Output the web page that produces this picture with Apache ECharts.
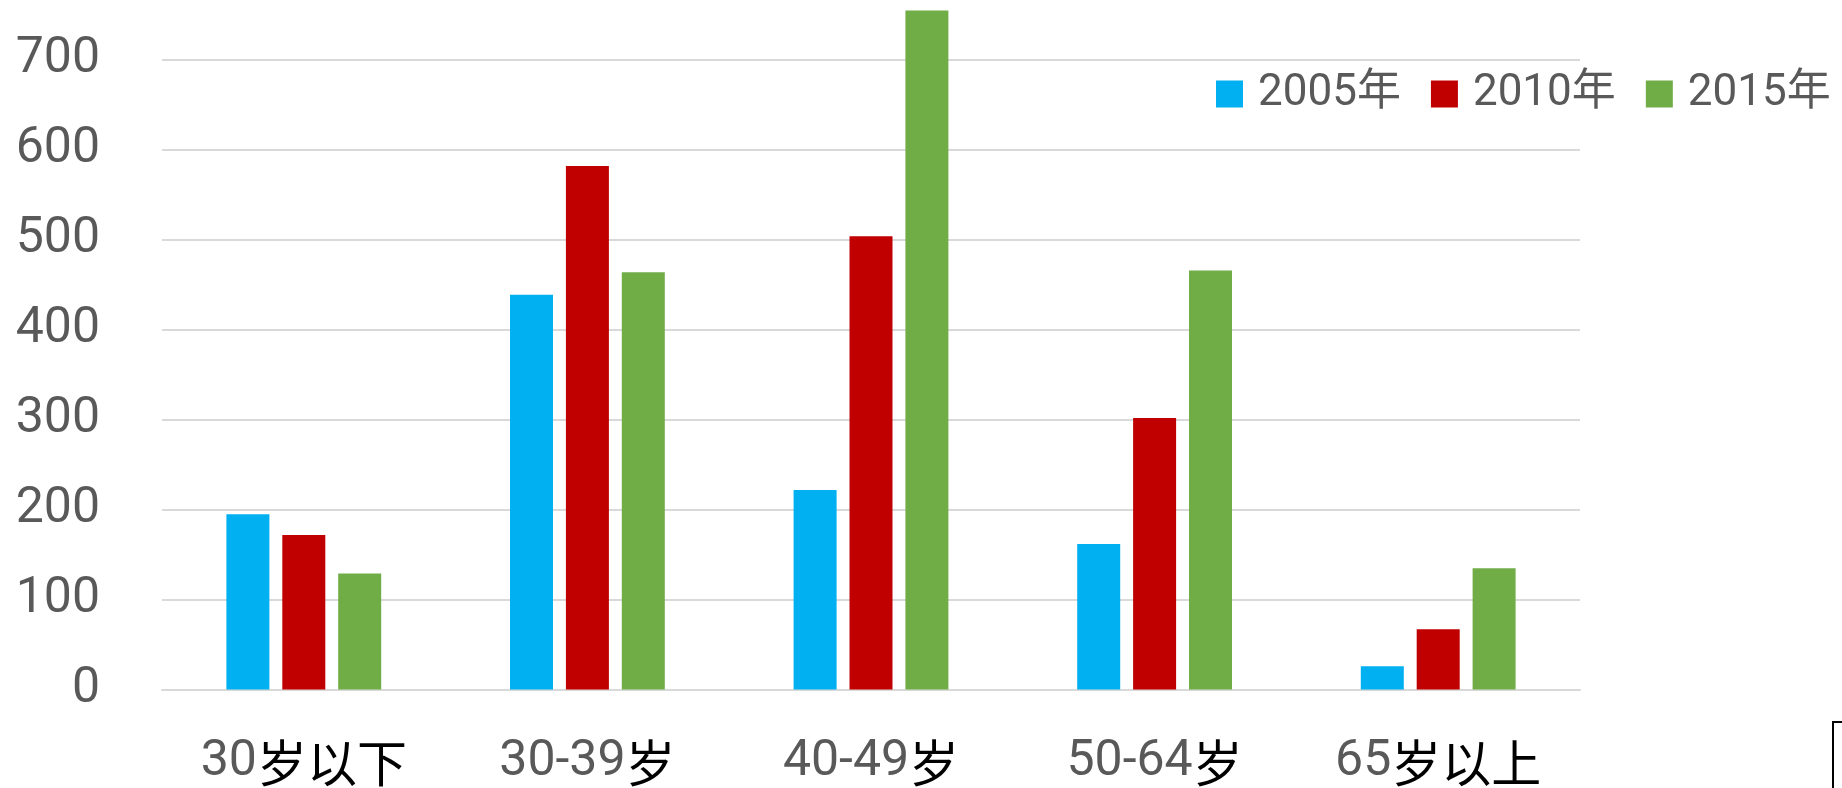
<!DOCTYPE html>
<html>
<head>
<meta charset="utf-8">
<script src="https://cdn.jsdelivr.net/npm/echarts@6/dist/echarts.min.js"></script>
<style>
html,body{margin:0;padding:0;background:#fff;}
#c{width:1842px;height:788px;}
</style>
</head>
<body>
<div id="c"></div>
<script>
const categories = ['30岁以下', '30-39岁', '40-49岁', '50-64岁', '65岁以上'];
const seriesNames = ['2005年', '2010年', '2015年'];
const values2005 = [195, 439, 222, 162, 26];
const values2010 = [172, 582, 504, 302, 67];
const values2015 = [129, 464, 755, 466, 135];
const colors = ['#00B0F0', '#C00000', '#70AD47'];

const LATIN = 'Roboto, "Noto Sans CJK SC", sans-serif';
const CJK = '"Noto Sans CJK SC", sans-serif';

function richLabel(s) {
  let out = '', cur = '', type = null;
  for (const ch of s) {
    const t = /[0-9\-]/.test(ch) ? 'd' : 'c';
    if (t !== type && cur) { out += '{' + type + '|' + cur + '}'; cur = ''; }
    type = t; cur += ch;
  }
  if (cur) out += '{' + type + '|' + cur + '}';
  return out;
}

const chart = echarts.init(document.getElementById('c'), null, {renderer: 'canvas'});
const seriesData = [values2005, values2010, values2015];
chart.setOption({
  animation: false,
  color: colors,
  grid: {left: 162, right: 262, top: -30, bottom: 98.4, containLabel: false, outerBoundsMode: 'none'},
  legend: {
    left: 1216, top: 72, padding: 0,
    itemWidth: 27, itemHeight: 27, itemGap: 30,
    icon: 'rect',
    textStyle: {fontSize: 44, color: '#595959', fontFamily: LATIN, padding: [0, 0, 0, 10]},
    data: seriesNames
  },
  xAxis: {
    type: 'category',
    data: categories,
    axisLine: {show: true, lineStyle: {color: '#d9d9d9', width: 2}},
    axisTick: {show: false},
    axisLabel: {
      margin: 48,
      interval: 0,
      formatter: v => richLabel(v),
      rich: {
        d: {fontSize: 50, color: '#595959', fontFamily: LATIN},
        c: {fontSize: 50, color: '#000000', fontFamily: CJK}
      }
    }
  },
  yAxis: {
    type: 'value',
    min: 0, max: 800, interval: 100,
    axisLine: {show: false},
    axisTick: {show: false},
    splitLine: {lineStyle: {color: '#d9d9d9', width: 2}},
    axisLabel: {fontSize: 50, color: '#595959', fontFamily: LATIN, margin: 62}
  },
  series: seriesNames.map((n, i) => ({
    name: n,
    type: 'bar',
    data: seriesData[i],
    barWidth: 43,
    barGap: '30%',
    itemStyle: {color: colors[i]}
  })),
  graphic: [{
    type: 'polyline',
    shape: {points: [[1833, 788], [1833, 722], [1842, 722]]},
    style: {stroke: '#000', lineWidth: 2, fill: null}
  }]
});
</script>
</body>
</html>
